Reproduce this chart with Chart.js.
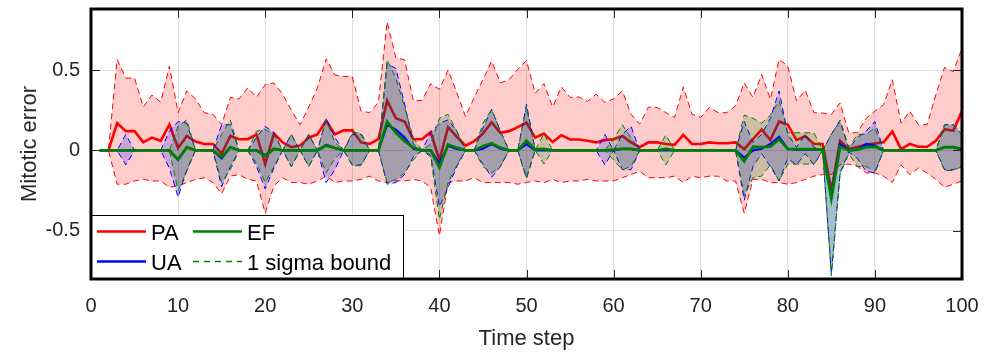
<!DOCTYPE html>
<html><head><meta charset="utf-8">
<script src="https://cdn.jsdelivr.net/npm/chart.js@4/dist/chart.umd.min.js"></script>
<style>html,body{margin:0;padding:0;background:#fff;}#wrap{width:992px;height:363px;}</style>
</head><body><div id="wrap"><canvas id="c" width="992" height="363"></canvas></div>
<script>
const timeSteps = [1,2,3,4,5,6,7,8,9,10,11,12,13,14,15,16,17,18,19,20,21,22,23,24,25,26,27,28,29,30,31,32,33,34,35,36,37,38,39,40,41,42,43,44,45,46,47,48,49,50,51,52,53,54,55,56,57,58,59,60,61,62,63,64,65,66,67,68,69,70,71,72,73,74,75,76,77,78,79,80,81,82,83,84,85,86,87,88,89,90,91,92,93,94,95,96,97,98,99,100];
const xTicks = [0,10,20,30,40,50,60,70,80,90,100];
const yTicks = [-0.5,0,0.5];

const paMean = [0,0,0.17,0.12,0.12,0.05,0.08,0.06,0.16,0.015,
 0.09,0.055,0.04,0.04,-0.02,0.09,0.07,0.07,0.10,-0.085,
 0.105,0.05,0.02,0.03,0.08,0.10,0.185,0.10,0.125,0.125,
 0.05,0.04,0.07,0.31,0.20,0.18,0.07,0.07,0.115,-0.06,
 0.145,0.085,0.03,0.058,0.105,0.175,0.11,0.12,0.145,0.172,
 0.08,0.105,0.052,0.095,0.068,0.068,0.06,0.05,0.064,0.07,
 0.09,0.05,0.02,0.05,0.05,0.04,0.035,0.097,0.04,0.04,
 0.05,0.045,0.045,0.05,0.008,0.07,0.13,0.064,0.18,0.16,
 0.064,0.09,0.04,0.04,-0.25,0.06,0.008,0.023,0.035,0.043,
 0.05,0.118,0.008,0.04,0.023,0.023,0.06,0.132,0.122,0.246];
const paUpper = [0,0,0.566,0.45,0.45,0.27,0.345,0.30,0.525,0.235,
 0.37,0.32,0.235,0.225,0.16,0.33,0.32,0.39,0.33,0.41,
 0.42,0.35,0.25,0.16,0.27,0.39,0.57,0.47,0.46,0.46,
 0.245,0.235,0.30,0.80,0.575,0.565,0.31,0.31,0.415,0.38,
 0.50,0.36,0.21,0.33,0.44,0.556,0.42,0.44,0.505,0.56,
 0.355,0.415,0.27,0.395,0.33,0.333,0.305,0.35,0.30,0.32,
 0.37,0.225,0.163,0.27,0.267,0.235,0.205,0.395,0.225,0.205,
 0.267,0.235,0.235,0.277,0.42,0.33,0.473,0.318,0.566,0.525,
 0.308,0.374,0.235,0.233,0.223,0.296,0.11,0.11,0.2,0.244,
 0.285,0.44,0.17,0.244,0.16,0.16,0.347,0.517,0.49,0.636];
const paLower = [0,0,-0.21,-0.21,-0.19,-0.18,-0.19,-0.19,-0.23,-0.22,
 -0.20,-0.18,-0.17,-0.20,-0.27,-0.16,-0.15,-0.18,-0.19,-0.39,
 -0.22,-0.17,-0.20,-0.20,-0.21,-0.19,-0.16,-0.20,-0.19,-0.19,
 -0.18,-0.16,-0.19,-0.20,-0.19,-0.19,-0.18,-0.19,-0.23,-0.53,
 -0.20,-0.19,-0.19,-0.17,-0.20,-0.20,-0.20,-0.20,-0.21,-0.20,
 -0.19,-0.20,-0.18,-0.20,-0.19,-0.19,-0.18,-0.19,-0.19,-0.19,
 -0.17,-0.15,-0.13,-0.17,-0.17,-0.17,-0.16,-0.20,-0.16,-0.17,
 -0.16,-0.16,-0.19,-0.19,-0.39,-0.18,-0.18,-0.20,-0.20,-0.21,
 -0.20,-0.18,-0.16,-0.15,-0.15,-0.09,-0.085,-0.10,-0.14,-0.14,
 -0.16,-0.20,-0.09,-0.15,-0.11,-0.14,-0.18,-0.23,-0.21,-0.19];

const uaMean = [0,0,0,0,0,0,0,0,0,-0.06,
 0.02,0,0,0,-0.05,0.02,0,0,0,-0.03,
 0.01,0,0,0,0,0,0.035,0.015,0,0,
 0,0,0,0.16,0.13,0.08,0.01,0,0,-0.08,
 0.03,0.01,0,0,0.01,0.04,0.01,0,0,0.04,
 0,0,0,0,0,0,0,0,0,0,
 0.01,0.01,0,0,0,0,0,0,0,0,
 0,0,0,0,-0.045,0,0.01,0.04,0.085,0.01,
 0.005,0.005,0.005,0.005,-0.29,0.04,0,0.005,0.04,0.03,
 0,0,0,0,0,0,0,0.02,0.02,0.01];
const uaUpper = [0,0,0,0.1,0,0,0,0,0.12,0.18,
 0.17,0,0,0,0.16,0.16,0,0,0.08,0.15,
 0.11,0,0.1,0,0.1,0,0.2,0.08,0,0.1,
 0.1,0,0,0.54,0.51,0.29,0.04,0,0.11,0.17,
 0.19,0.12,0,0,0.14,0.256,0.12,0,0,0.287,
 0,0,0,0,0,0,0,0,0.1,0,
 0.1,0.15,0,0,0,0,0,0,0,0,
 0,0,0,0,0.18,0.05,0.1,0.2,0.37,0.1,
 0.02,0.1,0.02,0,0.1,0.18,0.01,0.08,0.12,0.18,
 0,0,0,0,0,0,0,0.16,0.16,0.1];
const uaLower = [0,0,0,-0.09,0,0,0,0,-0.11,-0.29,
 -0.12,0,0,0,-0.225,-0.1,0,0,-0.1,-0.24,
 -0.11,0,-0.1,0,-0.1,0,-0.2,-0.12,0,-0.09,
 -0.09,0,0,-0.21,-0.2,-0.15,-0.04,0,-0.03,-0.35,
 -0.23,-0.1,0,0,-0.085,-0.167,-0.1,0,0,-0.167,
 0,0,0,0,0,0,0,0,-0.09,0,
 -0.12,-0.12,0,0,0,0,0,0,0,0,
 0,0,0,0,-0.31,-0.1,-0.02,-0.1,-0.19,-0.05,
 -0.09,-0.02,-0.09,0,-0.77,-0.14,-0.01,-0.05,-0.13,-0.14,
 0,0,0,0,0,0,0,-0.12,-0.12,-0.1];

const efMean = [0,0,0,0,0,0,0,0,0,-0.055,
 0.02,0,0,0,-0.04,0.02,0,0,0,-0.035,
 0.01,0,0,0,0,0,0.03,0.015,0,0,
 0,0,0,0.178,0.11,0.058,0.017,0,0,-0.107,
 0.037,0.017,0,0,0.027,0.045,0.017,0,0,0.06,
 0.006,0.01,0,0,0,0,0,0,0,0.005,
 0.01,0.01,0,0,0,0.01,0,0,0,0,
 0,0,0,0,-0.068,0.023,0.02,0.023,0.07,0.008,
 0.008,0.008,0.008,0.005,-0.30,0.023,0,0.005,0.02,0.023,
 0,0,0,0,0,0,0,0.02,0.02,0.005];
const efUpper = [0,0,0,0,0,0,0,0,0,0.15,
 0.19,0,0,0,0.1,0.19,0,0,0.12,0.13,
 0.1,0,0.1,0,0.1,0,0.19,0.05,0,0.11,
 0.11,0,0,0.565,0.45,0.27,0.08,0,0.04,0.2,
 0.225,0.12,0,0,0.17,0.256,0.12,0,0,0.27,
 0,0.105,0,0,0,0,0,0,0,0.07,
 0.16,0.08,0,0,0,0.097,0,0,0,0,
 0,0,0,0,0.22,0.2,0.17,0.22,0.31,0.11,
 0.11,0.11,0.11,0,0.1,0.19,0.02,0.1,0.1,0.14,
 0,0,0,0,0,0,0,0.16,0.16,0.1];
const efLower = [0,0,0,0,0,0,0,0,0,-0.25,
 -0.13,0,0,0,-0.2,-0.12,0,0,-0.08,-0.2,
 -0.1,0,-0.1,0,-0.1,0,-0.14,-0.05,0,-0.095,
 -0.095,0,0,-0.2,-0.18,-0.14,-0.06,0,-0.04,-0.43,
 -0.2,-0.09,0,0,-0.1,-0.14,-0.1,0,0,-0.178,
 0,-0.085,0,0,0,0,0,0,0,-0.06,
 -0.12,-0.1,0,0,0,-0.09,0,0,0,0,
 0,0,0,0,-0.28,-0.17,-0.16,-0.09,-0.19,-0.085,
 -0.085,-0.085,-0.085,0,-0.78,-0.15,-0.02,-0.1,-0.1,-0.13,
 0,0,0,0,0,0,0,-0.125,-0.125,-0.1];

const FONT = "'Liberation Sans', Arial, Helvetica, sans-serif";
const pts = arr => timeSteps.map((t, i) => ({x: t, y: arr[i]}));

function line(arr, color, width, order, extra) {
  return Object.assign({data: pts(arr), borderColor: color, borderWidth: width, pointRadius: 0,
    tension: 0, fill: false, order: order}, extra || {});
}
const DASH = [6, 4];
const datasets = [
  line(paUpper, '#ff0000', 1, 20, {borderDash: DASH, fill: '+1', backgroundColor: 'rgba(255,0,0,0.2)'}),
  line(paLower, '#ff0000', 1, 19, {borderDash: DASH}),
  line(paMean, '#ff0000', 2.6, 18),
  line(uaUpper, '#0000ff', 1, 17, {borderDash: DASH, fill: '+1', backgroundColor: 'rgba(0,0,255,0.2)'}),
  line(uaLower, '#0000ff', 1, 16, {borderDash: DASH}),
  line(efUpper, '#008000', 1, 15, {borderDash: DASH, fill: '+1', backgroundColor: 'rgba(0,128,0,0.2)'}),
  line(efLower, '#008000', 1, 14, {borderDash: DASH}),
  line(uaMean, '#0000ff', 2.2, 2),
  line(efMean, '#008000', 2.8, 1)
];

const framePlugin = {
  id: 'frame',
  afterDraw(chart) {
    const {ctx, chartArea: a, scales: {x, y}} = chart;
    ctx.save();
    ctx.strokeStyle = '#262626';
    ctx.lineWidth = 1;
    ctx.beginPath();
    xTicks.forEach(v => {
      const px = Math.round(x.getPixelForValue(v)) + 0.5;
      ctx.moveTo(px, a.bottom); ctx.lineTo(px, a.bottom - 9);
      ctx.moveTo(px, a.top); ctx.lineTo(px, a.top + 9);
    });
    yTicks.forEach(v => {
      const py = Math.round(y.getPixelForValue(v)) + 0.5;
      ctx.moveTo(a.left, py); ctx.lineTo(a.left + 9, py);
      ctx.moveTo(a.right, py); ctx.lineTo(a.right - 9, py);
    });
    ctx.stroke();

    const L = Math.round(a.left), B = Math.round(a.bottom);
    const top = B - 64, right = L + 313;
    ctx.fillStyle = '#ffffff';
    ctx.fillRect(L, top, right - L, B - top);
    ctx.strokeStyle = '#000000';
    ctx.lineWidth = 1;
    ctx.strokeRect(L + 0.5, top + 0.5, right - L - 1, B - top - 1);
    const items = [
      {label: 'PA', color: '#ff0000', dash: [], w: 2.6, col: 0, row: 0},
      {label: 'EF', color: '#008000', dash: [], w: 2.6, col: 1, row: 0},
      {label: 'UA', color: '#0000ff', dash: [], w: 2.6, col: 0, row: 1},
      {label: '1 sigma bound', color: '#008000', dash: [6, 5], w: 1.3, col: 1, row: 1}
    ];
    ctx.font = '22px ' + FONT;
    ctx.textBaseline = 'alphabetic';
    ctx.textAlign = 'left';
    items.forEach(it => {
      const x0 = L + 6 + it.col * 96;
      const ly = it.row === 0 ? B - 47.5 : B - 17.5;
      ctx.beginPath();
      ctx.setLineDash(it.dash);
      ctx.strokeStyle = it.color;
      ctx.lineWidth = it.w;
      ctx.moveTo(x0, ly); ctx.lineTo(x0 + 49, ly);
      ctx.stroke();
      ctx.setLineDash([]);
      ctx.fillStyle = '#000000';
      ctx.fillText(it.label, x0 + 54, ly + 8.5);
    });

    ctx.strokeStyle = '#000000';
    ctx.lineWidth = 3;
    ctx.strokeRect(a.left, a.top, a.right - a.left, a.bottom - a.top);
    ctx.restore();
  }
};

new Chart(document.getElementById('c'), {
  type: 'line',
  data: {datasets},
  plugins: [framePlugin],
  options: {
    responsive: false,
    animation: false,
    devicePixelRatio: 1,
    layout: {padding: {top: 9, right: 30, left: 0, bottom: 0}},
    plugins: {legend: {display: false}, tooltip: {enabled: false}},
    scales: {
      x: {
        type: 'linear', min: 0, max: 100,
        afterBuildTicks: s => { s.ticks = xTicks.map(v => ({value: v})); },
        afterFit: s => { s.height = 84; s.paddingLeft = 0; s.paddingRight = 0; },
        ticks: {font: {family: FONT, size: 20}, color: '#262626', padding: 15, maxRotation: 0},
        grid: {color: '#dedede', drawTicks: false, lineWidth: 1},
        border: {display: false},
        title: {display: true, text: 'Time step', font: {family: FONT, size: 22}, color: '#262626', padding: {top: 0, bottom: 11}}
      },
      y: {
        type: 'linear', min: -0.8, max: 0.88,
        afterBuildTicks: s => { s.ticks = yTicks.map(v => ({value: v})); },
        afterFit: s => { s.width = 91; s.paddingTop = 0; s.paddingBottom = 0; },
        ticks: {font: {family: FONT, size: 20}, color: '#262626', padding: 11,
          callback: v => (v === 0 ? '0' : String(v))},
        grid: {color: '#dedede', drawTicks: false, lineWidth: 1},
        border: {display: false},
        title: {display: true, text: 'Mitotic error', font: {family: FONT, size: 22}, color: '#262626', padding: {top: 17, bottom: 0}}
      }
    }
  }
});
</script></body></html>
